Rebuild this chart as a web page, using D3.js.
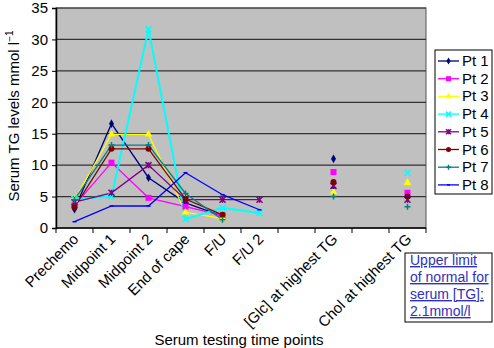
<!DOCTYPE html>
<html>
<head>
<meta charset="utf-8">
<script src="https://cdn.jsdelivr.net/npm/d3@7"></script>
<style>
body{margin:0;background:#fff}
text{font-family:"Liberation Sans",Arial,sans-serif;fill:#000}
</style>
</head>
<body>
<svg width="494" height="348"></svg>
<script>
// time points (blank slots keep the gaps of the original chart)
var categories = ["Prechemo","Midpoint 1","Midpoint 2","End of cape","F/U","F/U 2","","[Glc] at highest TG","","Chol at highest TG"];
var yTicks = [0,5,10,15,20,25,30,35];
var seriesNames = ["Pt 1","Pt 2","Pt 3","Pt 4","Pt 5","Pt 6","Pt 7","Pt 8"];
var pt1 = [3.0,16.6,8.0,4.0,1.9,null,null,11.0,null,5.1];
var pt2 = [3.6,10.4,4.8,3.4,2.0,null,null,8.9,null,5.6];
var pt3 = [4.5,14.9,14.9,2.5,1.5,null,null,5.7,null,7.2];
var pt4 = [4.6,5.0,31.6,1.4,3.2,2.4,null,null,null,8.8];
var pt5 = [4.1,5.6,10.0,4.5,4.5,4.5,null,6.7,null,4.5];
var pt6 = [3.3,12.6,12.6,4.6,2.1,null,null,7.3,null,5.0];
var pt7 = [4.5,13.2,13.2,5.5,1.3,null,null,5.0,null,3.4];
var pt8 = [1.0,3.5,3.5,8.8,5.3,2.9,null,6.4,null,4.9];

var colors = ["#000080","#ff00ff","#ffff00","#00ffff","#800080","#800000","#008080","#0000ff"];
var markers = ["diamond","square","triangle","x","star","circle","plus","dash"];

var series = [pt1,pt2,pt3,pt4,pt5,pt6,pt7,pt8].map((vals,i)=>({
  name: seriesNames[i], color: colors[i], marker: markers[i],
  values: vals.map((v,j)=>({cat: j, v: v}))
}));

var svg = d3.select('svg');
var pLeft = 56, pRight = 426, pTop = 8, pBottom = 228;

var xScale = d3.scaleBand().domain(d3.range(categories.length)).range([pLeft,pRight]);
var yScale = d3.scaleLinear().domain([0,35]).range([pBottom,pTop]);
var cx = j => xScale(j) + xScale.bandwidth()/2;

// plot area
svg.append('rect').attr('x',pLeft).attr('y',pTop).attr('width',pRight-pLeft).attr('height',pBottom-pTop)
  .attr('fill','#c0c0c0').attr('stroke','#555').attr('stroke-width',1);

// grid lines
svg.append('g').selectAll('line').data(yTicks.slice(1)).enter().append('line')
  .attr('x1',pLeft).attr('x2',pRight)
  .attr('y1',d=>yScale(d)).attr('y2',d=>yScale(d))
  .attr('stroke','#333').attr('stroke-width',1.2);

// y axis
var yAxis = d3.axisLeft(yScale).tickValues(yTicks).tickSize(4).tickPadding(4);
var yG = svg.append('g').attr('transform','translate('+pLeft+',0)').call(yAxis);
yG.select('.domain').attr('stroke','#000').attr('stroke-width',1.5);
yG.selectAll('.tick line').attr('stroke','#000');
yG.selectAll('text').style('font-size','15px').attr('font-family',null);

// x axis: ticks on category boundaries
var xG = svg.append('g');
xG.append('line').attr('x1',pLeft).attr('x2',pRight).attr('y1',pBottom).attr('y2',pBottom)
  .attr('stroke','#000').attr('stroke-width',1.5);
xG.selectAll('.tk').data(d3.range(categories.length+1)).enter().append('line')
  .attr('x1',d=>pLeft+d*xScale.bandwidth()).attr('x2',d=>pLeft+d*xScale.bandwidth())
  .attr('y1',pBottom).attr('y2',pBottom+5).attr('stroke','#000');
xG.selectAll('.lbl').data(categories).enter().append('text')
  .attr('transform',(d,i)=>'translate('+(cx(i)+5)+','+(pBottom+12)+') rotate(-45)')
  .attr('text-anchor','end').style('font-size','15px').text(d=>d);

// lines
var line = d3.line().defined(d=>d.v!==null).x(d=>cx(d.cat)).y(d=>yScale(d.v));
svg.append('g').selectAll('path').data(series).enter().append('path')
  .attr('d',d=>line(d.values)).attr('fill','none')
  .attr('stroke',d=>d.color).attr('stroke-width',d=>d.marker==='x'?2:1.3);

function drawMarker(g, type, color, s){
  if(type==='diamond') g.append('path').attr('d',d3.symbol(d3.symbolDiamond,s*s*0.6)()).attr('fill',color);
  else if(type==='square') g.append('rect').attr('x',-s/2).attr('y',-s/2).attr('width',s).attr('height',s).attr('fill',color);
  else if(type==='triangle') g.append('path').attr('d',d3.symbol(d3.symbolTriangle,s*s*0.7)()).attr('fill',color);
  else if(type==='circle') g.append('circle').attr('r',s/2).attr('fill',color);
  else {
    var h = s/2, p = '';
    if(type==='x' || type==='star') p += 'M'+(-h)+','+(-h)+'L'+h+','+h+'M'+(-h)+','+h+'L'+h+','+(-h);
    if(type==='plus' || type==='star') p += 'M0,'+(-h)+'L0,'+h;
    if(type==='plus') p += 'M'+(-h)+',0L'+h+',0';
    if(type==='dash') p += 'M'+(-h+1)+',0L'+(h-1)+',0';
    g.append('path').attr('d',p).attr('stroke',color).attr('stroke-width',1.5).attr('fill','none');
  }
}

// markers
series.forEach(function(s){
  s.values.filter(d=>d.v!==null).forEach(function(d){
    var g = svg.append('g').attr('transform','translate('+cx(d.cat)+','+yScale(d.v)+')');
    drawMarker(g, s.marker, s.color, 6);
  });
});

// axis titles
svg.append('text').attr('x',239).attr('y',345).attr('text-anchor','middle')
  .style('font-size','15px').text('Serum testing time points');
var yt = svg.append('text').attr('transform','translate(19,116) rotate(-90)')
  .attr('text-anchor','middle').style('font-size','15px');
yt.append('tspan').text('Serum TG levels mmol l');
yt.append('tspan').attr('dy',-6).style('font-size','10px').text('\u22121');

// legend
var lg = svg.append('g');
lg.append('rect').attr('x',435).attr('y',50).attr('width',57).attr('height',144)
  .attr('fill','#fff').attr('stroke','#000');
series.forEach(function(s,i){
  var y = 61 + i*17.7;
  lg.append('line').attr('x1',438).attr('x2',459).attr('y1',y).attr('y2',y)
    .attr('stroke',s.color).attr('stroke-width',1.3);
  var g = lg.append('g').attr('transform','translate(448.5,'+y+')');
  drawMarker(g, s.marker, s.color, 5);
  lg.append('text').attr('x',462).attr('y',y+5).style('font-size','15px').text(s.name);
});

// note box
var note = ["Upper limit","of normal for","serum [TG]:","2.1mmol/l"];
svg.append('rect').attr('x',405).attr('y',253).attr('width',87).attr('height',69)
  .attr('fill','#fff').attr('stroke','#000');
svg.append('g').selectAll('text').data(note).enter().append('text')
  .attr('x',410).attr('y',(d,i)=>265+i*17)
  .style('font-size','14px').style('fill','#3030c0').style('text-decoration','underline')
  .text(d=>d);
</script>
</body>
</html>
